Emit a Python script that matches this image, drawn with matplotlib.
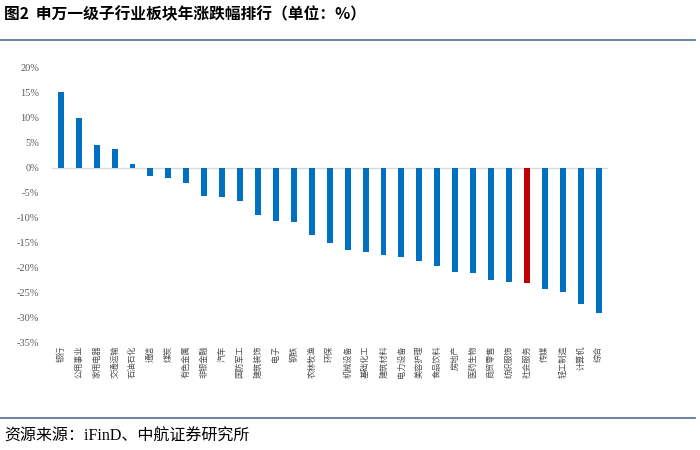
import matplotlib.pyplot as plt
from matplotlib.lines import Line2D

plt.rcParams['font.family'] = ['Noto Sans CJK SC', 'DejaVu Sans']

industries = ['银行', '公用事业', '家用电器', '交通运输', '石油石化', '通信', '煤炭',
              '有色金属', '非银金融', '汽车', '国防军工', '建筑装饰', '电子', '钢铁',
              '农林牧渔', '环保', '机械设备', '基础化工', '建筑材料', '电力设备',
              '美容护理', '食品饮料', '房地产', '医药生物', '商贸零售', '纺织服饰',
              '社会服务', '传媒', '轻工制造', '计算机', '综合']
changes = [15.2, 10.0, 4.5, 3.8, 0.8, -1.7, -2.0, -3.0, -5.7, -5.8, -6.6, -9.4,
           -10.6, -10.9, -13.4, -15.0, -16.5, -16.9, -17.5, -17.8, -18.7, -19.6,
           -20.8, -21.1, -22.4, -22.9, -23.1, -24.3, -24.8, -27.3, -29.1]
highlight = '社会服务'
yticks = [20, 15, 10, 5, 0, -5, -10, -15, -20, -25, -30, -35]

colors = ['#C00000' if name == highlight else '#0070C0' for name in industries]

fig = plt.figure(figsize=(7, 4.5), dpi=100)
ax = fig.add_axes([0.074, 0.238, 0.794, 0.611])

x = list(range(len(industries)))
ax.bar(x, changes, width=0.33, color=colors, zorder=3)
ax.axhline(0, color='#D9D9D9', lw=1, zorder=2)

ax.set_xlim(-0.5, len(industries) - 0.5)
ax.set_ylim(-35, 20)
ax.set_yticks(yticks)
ax.set_yticklabels([f'{v}%' for v in yticks], family=['Liberation Serif'],
                   fontsize=7.5, color='#595959')
ax.set_xticks(x)
ax.set_xticklabels(industries, rotation=90, ha='center', va='top',
                   fontsize=5.9, color='#505050')
ax.tick_params(axis='both', length=0)
ax.tick_params(axis='x', pad=2)
ax.tick_params(axis='y', pad=9)
for s in ax.spines.values():
    s.set_visible(False)

fig.text(0.006, 0.969, '图2  申万一级子行业板块年涨跌幅排行（单位：%）',
         fontsize=11.3, fontweight='bold', va='center', ha='left')
fig.add_artist(Line2D([0, 0.993], [1 - 40 / 450] * 2, color='#4F6E9A', lw=1.2))
fig.add_artist(Line2D([0, 0.993], [1 - 418 / 450] * 2, color='#4F6E9A', lw=1.2))
fig.text(0.006, 1 - 437 / 450, '资源来源：iFinD、中航证券研究所',
         family=['Liberation Serif', 'Noto Sans CJK SC'], fontsize=11.5,
         va='center', ha='left')

fig.savefig('out.png', dpi=100)
